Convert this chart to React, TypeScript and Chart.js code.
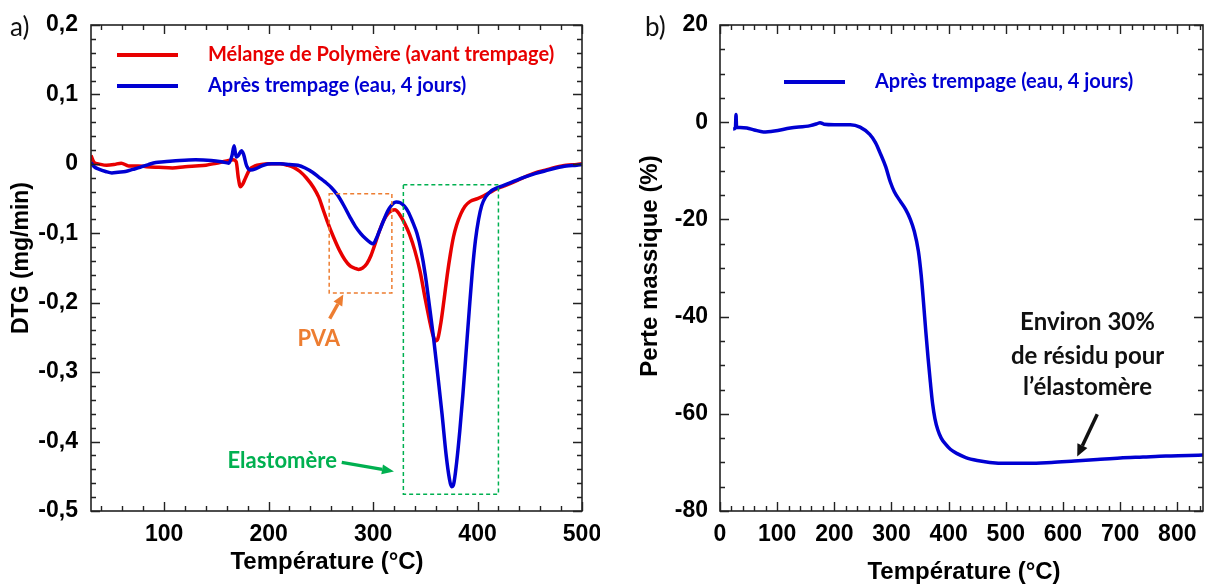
import React, { useEffect, useRef } from "react";
import { Chart, registerables } from "chart.js";

Chart.register(...registerables);

// ---------- Data ----------
// a) DTG curves
const redTemp = [30, 33, 37, 45, 52, 59, 66, 75, 83, 95, 108, 120, 130, 140, 150, 160, 166, 169, 171, 173, 175, 178, 182, 187, 193, 200, 211, 218, 224, 230, 236, 243, 248, 252, 256, 262, 268, 273, 278, 282, 286, 290, 294, 298, 302, 306, 310, 314, 318, 321, 325, 330, 335, 340, 345, 350, 354, 357, 360, 362, 365, 368, 371, 374, 377, 380, 384, 388, 393, 400, 406, 412, 418, 425, 435, 445, 455, 465, 475, 485, 495, 500];
const redDTG = [0.012, 0.002, 0.0, -0.002, -0.001, 0.001, -0.003, -0.003, -0.004, -0.005, -0.006, -0.004, -0.003, -0.002, 0.001, 0.004, 0.006, 0.003, -0.02, -0.033, -0.03, -0.02, -0.008, -0.003, -0.001, 0.0, 0.0, -0.002, -0.005, -0.011, -0.02, -0.034, -0.048, -0.065, -0.082, -0.105, -0.125, -0.138, -0.147, -0.15, -0.152, -0.15, -0.144, -0.132, -0.115, -0.097, -0.082, -0.072, -0.067, -0.066, -0.072, -0.085, -0.102, -0.125, -0.155, -0.195, -0.225, -0.245, -0.255, -0.252, -0.228, -0.195, -0.16, -0.13, -0.105, -0.088, -0.072, -0.061, -0.054, -0.05, -0.046, -0.041, -0.036, -0.032, -0.026, -0.019, -0.013, -0.009, -0.005, -0.002, -0.001, 0.0];

const blueTemp = [30, 33, 38, 44, 50, 56, 63, 70, 77, 85, 92, 100, 115, 130, 145, 155, 162, 165, 167, 169, 171, 174, 176, 179, 183, 188, 195, 203, 211, 220, 228, 235, 242, 248, 254, 260, 266, 272, 278, 283, 288, 293, 297, 300, 303, 306, 310, 314, 318, 322, 326, 330, 334, 338, 342, 346, 350, 354, 358, 362, 366, 370, 373, 375, 377, 380, 383, 386, 389, 392, 395, 398, 401, 404, 408, 413, 418, 425, 435, 445, 455, 465, 475, 485, 495, 500];
const blueDTG = [0.002, -0.004, -0.008, -0.011, -0.013, -0.012, -0.011, -0.008, -0.005, -0.001, 0.002, 0.003, 0.005, 0.006, 0.005, 0.003, 0.001, 0.012, 0.026, 0.01, 0.012, 0.019, 0.014, -0.003, -0.009, -0.007, -0.002, 0.0, 0.0, -0.001, -0.002, -0.006, -0.012, -0.019, -0.026, -0.034, -0.045, -0.06, -0.077, -0.09, -0.1, -0.108, -0.113, -0.115, -0.108, -0.097, -0.082, -0.068, -0.059, -0.055, -0.056, -0.061, -0.07, -0.084, -0.1, -0.125, -0.16, -0.205, -0.252, -0.305, -0.36, -0.42, -0.453, -0.465, -0.462, -0.43, -0.385, -0.332, -0.272, -0.212, -0.155, -0.11, -0.08, -0.06, -0.047, -0.039, -0.035, -0.031, -0.025, -0.019, -0.014, -0.01, -0.006, -0.003, -0.002, -0.001];

// b) mass loss curve
const massTemp = [23, 27, 28, 29, 35, 47, 60, 76, 95, 123, 158, 170, 175, 182, 200, 228, 245, 262, 272, 280, 290, 298, 305, 315, 325, 333, 340, 347, 352, 356, 360, 364, 368, 372, 376, 381, 387, 395, 403, 415, 430, 450, 472, 500, 540, 580, 620, 660, 700, 740, 780, 820, 845];
const massLoss = [-1.4, -1.2, 1.6, -1.0, -1.1, -1.2, -1.6, -2.0, -1.8, -1.2, -0.7, -0.3, -0.1, -0.4, -0.5, -0.5, -1.0, -2.5, -4.2, -6.3, -9.2, -12.3, -14.3, -16.2, -18.0, -20.0, -22.5, -26.5, -31.5, -37.0, -43.0, -48.5, -53.5, -58.0, -61.0, -63.3, -65.0, -66.3, -67.3, -68.2, -69.0, -69.6, -70.0, -70.2, -70.2, -70.0, -69.7, -69.4, -69.1, -68.9, -68.7, -68.6, -68.5];

// Ticks
const xTicksA = [100, 200, 300, 400, 500];
const yTicksA = [-0.5, -0.4, -0.3, -0.2, -0.1, 0, 0.1, 0.2];
const xTicksB = [0, 100, 200, 300, 400, 500, 600, 700, 800];
const yTicksB = [-80, -60, -40, -20, 0, 20];

// Labels
const seriesLabelsA = ["Mélange de Polymère (avant trempage)", "Après trempage (eau, 4 jours)"];
const seriesLabelB = "Après trempage (eau, 4 jours)";
const xTitle = "Température (°C)";
const yTitleA = "DTG (mg/min)";
const yTitleB = "Perte massique (%)";
const noteB = ["Environ 30%", "de résidu pour", "l\u2019élastomère"];

// ---------- Styles ----------
const RED = "rgb(232,0,0)";
const BLUE = "rgb(0,0,210)";
const ORANGE = "rgb(237,125,49)";
const GREEN = "rgb(0,176,80)";
const AXF = "'Liberation Sans', Arial, sans-serif";
const TXF = "Lato, 'Open Sans', sans-serif";

function drawArrow(ctx: CanvasRenderingContext2D, x1: number, y1: number, x2: number, y2: number, color: string, w: number, hl: number, hw: number) {
  const a = Math.atan2(y2 - y1, x2 - x1);
  const bx = x2 - hl * Math.cos(a);
  const by = y2 - hl * Math.sin(a);
  ctx.save();
  ctx.strokeStyle = color;
  ctx.lineWidth = w;
  ctx.beginPath();
  ctx.moveTo(x1, y1);
  ctx.lineTo(bx, by);
  ctx.stroke();
  ctx.fillStyle = color;
  ctx.beginPath();
  ctx.moveTo(x2, y2);
  ctx.lineTo(bx + (hw / 2) * Math.sin(a), by - (hw / 2) * Math.cos(a));
  ctx.lineTo(bx - (hw / 2) * Math.sin(a), by + (hw / 2) * Math.cos(a));
  ctx.closePath();
  ctx.fill();
  ctx.restore();
}

function drawFrame(chart: any, xMinor: number, xMajor: number, yMinor: number, yMajor: number) {
  const { ctx, chartArea } = chart;
  const { left, right, top, bottom } = chartArea;
  const xs = chart.scales.x;
  const ys = chart.scales.y;
  ctx.save();
  ctx.strokeStyle = "#222";
  ctx.lineWidth = 1.6;
  ctx.strokeRect(left, top, right - left, bottom - top);
  ctx.lineWidth = 1.4;
  ctx.beginPath();
  const isMaj = (v: number, m: number) => Math.abs(v / m - Math.round(v / m)) < 1e-6;
  for (let i = Math.ceil(xs.min / xMinor - 1e-9); i * xMinor <= xs.max + 1e-9; i++) {
    const v = i * xMinor;
    const px = Math.round(xs.getPixelForValue(v)) + 0.5;
    const len = isMaj(v, xMajor) ? 9 : 5;
    ctx.moveTo(px, bottom);
    ctx.lineTo(px, bottom - len);
    ctx.moveTo(px, top);
    ctx.lineTo(px, top + len);
  }
  for (let i = Math.ceil(ys.min / yMinor - 1e-9); i * yMinor <= ys.max + 1e-9; i++) {
    const v = i * yMinor;
    const py = Math.round(ys.getPixelForValue(v)) + 0.5;
    const len = isMaj(v, yMajor) ? 9 : 5;
    ctx.moveTo(left, py);
    ctx.lineTo(left + len, py);
    ctx.moveTo(right, py);
    ctx.lineTo(right - len, py);
  }
  ctx.stroke();
  ctx.restore();
}

function dashedBox(chart: any, x0: number, x1: number, y0: number, y1: number, color: string) {
  const { ctx } = chart;
  const xs = chart.scales.x;
  const ys = chart.scales.y;
  const a = xs.getPixelForValue(x0);
  const b = xs.getPixelForValue(x1);
  const c = ys.getPixelForValue(y0);
  const d = ys.getPixelForValue(y1);
  ctx.save();
  ctx.strokeStyle = color;
  ctx.lineWidth = 1.5;
  ctx.setLineDash([4, 3]);
  ctx.strokeRect(a, c, b - a, d - c);
  ctx.restore();
}

function text(ctx: CanvasRenderingContext2D, s: string, x: number, y: number, font: string, color: string, align: CanvasTextAlign = "center", rot = 0) {
  ctx.save();
  ctx.font = font;
  ctx.fillStyle = color;
  ctx.textAlign = align;
  ctx.textBaseline = "middle";
  ctx.translate(x, y);
  if (rot) ctx.rotate(rot);
  ctx.fillText(s, 0, 0);
  ctx.restore();
}

const tickFont = { family: AXF, size: 23, weight: "bold" as const };

function fmtDTG(v: number) {
  const r = Math.round(v * 10) / 10;
  return r === 0 ? "0" : r.toFixed(1).replace(".", ",");
}

function configA(): any {
  const redPts = redTemp.map((t, i) => ({ x: t, y: redDTG[i] }));
  const bluePts = blueTemp.map((t, i) => ({ x: t, y: blueDTG[i] }));
  return {
    type: "line",
    data: {
      datasets: [
        { label: seriesLabelsA[0], data: redPts, borderColor: RED, borderWidth: 3.5, pointRadius: 0, order: 2, cubicInterpolationMode: "monotone", fill: false },
        { label: seriesLabelsA[1], data: bluePts, borderColor: BLUE, borderWidth: 3.5, pointRadius: 0, order: 1, cubicInterpolationMode: "monotone", fill: false },
      ],
    },
    options: {
      animation: false,
      responsive: false,
      events: [],
      layout: { padding: { top: 25, right: 18, left: 0, bottom: 0 } },
      plugins: { legend: { display: false }, tooltip: { enabled: false } },
      scales: {
        x: {
          type: "linear",
          min: 30,
          max: 500,
          grid: { display: false, drawTicks: false },
          border: { display: false },
          afterBuildTicks: (s: any) => { s.ticks = xTicksA.map((v) => ({ value: v })); },
          afterFit: (s: any) => { s.height = 75; s.paddingLeft = 0; s.paddingRight = 0; },
          ticks: { padding: 10, color: "#000", font: tickFont, maxRotation: 0, autoSkip: false, callback: (v: number) => String(v) },
        },
        y: {
          type: "linear",
          min: -0.5,
          max: 0.2,
          grid: { display: false, drawTicks: false },
          border: { display: false },
          afterBuildTicks: (s: any) => { s.ticks = yTicksA.map((v) => ({ value: v })); },
          afterFit: (s: any) => { s.width = 91; s.paddingTop = 0; s.paddingBottom = 0; },
          ticks: { padding: 13, color: "#000", font: tickFont, autoSkip: false, callback: (v: number) => fmtDTG(v) },
        },
      },
    },
    plugins: [
      {
        id: "decorA",
        afterDraw(chart: any) {
          const { ctx, chartArea } = chart;
          const xs = chart.scales.x;
          const ys = chart.scales.y;
          drawFrame(chart, 20, 100, 0.02, 0.1);
          // panel letter
          text(ctx, "a)", 10, 28, `400 26px ${TXF}`, "#111", "left");
          // axis titles
          text(ctx, xTitle, 327, 562, `bold 24px ${AXF}`, "#000");
          text(ctx, yTitleA, 22, 258, `bold 23px ${AXF}`, "#000", "center", -Math.PI / 2);
          // legend
          const L = chartArea.left;
          const cols = [RED, BLUE];
          const ly = [55, 86];
          seriesLabelsA.forEach((lab, i) => {
            ctx.save();
            ctx.strokeStyle = cols[i];
            ctx.lineWidth = 4;
            ctx.beginPath();
            ctx.moveTo(L + 26, ly[i]);
            ctx.lineTo(L + 87, ly[i]);
            ctx.stroke();
            ctx.restore();
            text(ctx, lab, L + 117, ly[i], `bold 20px ${TXF}`, cols[i], "left");
          });
          // annotations
          dashedBox(chart, 258, 318, -0.043, -0.186, ORANGE);
          dashedBox(chart, 329, 420, -0.030, -0.476, GREEN);
          drawArrow(ctx, xs.getPixelForValue(258.5), ys.getPixelForValue(-0.223), xs.getPixelForValue(271.5), ys.getPixelForValue(-0.188), ORANGE, 3.5, 11, 10);
          text(ctx, "PVA", xs.getPixelForValue(248), ys.getPixelForValue(-0.252), `bold 22px ${TXF}`, ORANGE);
          drawArrow(ctx, xs.getPixelForValue(270), ys.getPixelForValue(-0.430), xs.getPixelForValue(320), ys.getPixelForValue(-0.443), GREEN, 3.5, 12, 10);
          text(ctx, "Elastomère", xs.getPixelForValue(213), ys.getPixelForValue(-0.428), `bold 22px ${TXF}`, GREEN);
        },
      },
    ],
  };
}

function configB(): any {
  const pts = massTemp.map((t, i) => ({ x: t, y: massLoss[i] }));
  return {
    type: "line",
    data: {
      datasets: [
        { label: seriesLabelB, data: pts, borderColor: BLUE, borderWidth: 3.5, pointRadius: 0, cubicInterpolationMode: "monotone", fill: false },
      ],
    },
    options: {
      animation: false,
      responsive: false,
      events: [],
      layout: { padding: { top: 25, right: 2, left: 0, bottom: 0 } },
      plugins: { legend: { display: false }, tooltip: { enabled: false } },
      scales: {
        x: {
          type: "linear",
          min: 0,
          max: 845,
          grid: { display: false, drawTicks: false },
          border: { display: false },
          afterBuildTicks: (s: any) => { s.ticks = xTicksB.map((v) => ({ value: v })); },
          afterFit: (s: any) => { s.height = 75; s.paddingLeft = 0; s.paddingRight = 0; },
          ticks: { padding: 10, color: "#000", font: tickFont, maxRotation: 0, autoSkip: false, callback: (v: number) => String(v) },
        },
        y: {
          type: "linear",
          min: -80,
          max: 20,
          grid: { display: false, drawTicks: false },
          border: { display: false },
          afterBuildTicks: (s: any) => { s.ticks = yTicksB.map((v) => ({ value: v })); },
          afterFit: (s: any) => { s.width = 120; s.paddingTop = 0; s.paddingBottom = 0; },
          ticks: { padding: 12, color: "#000", font: tickFont, autoSkip: false, callback: (v: number) => String(v) },
        },
      },
    },
    plugins: [
      {
        id: "decorB",
        afterDraw(chart: any) {
          const { ctx, chartArea } = chart;
          const xs = chart.scales.x;
          const ys = chart.scales.y;
          drawFrame(chart, 20, 100, 5, 20);
          text(ctx, "b)", 45, 28, `400 26px ${TXF}`, "#111", "left");
          text(ctx, xTitle, 364, 572, `bold 24px ${AXF}`, "#000");
          text(ctx, yTitleB, 50, 266, `bold 24px ${AXF}`, "#000", "center", -Math.PI / 2);
          const L = chartArea.left;
          ctx.save();
          ctx.strokeStyle = BLUE;
          ctx.lineWidth = 4;
          ctx.beginPath();
          ctx.moveTo(L + 64, 82);
          ctx.lineTo(L + 125, 82);
          ctx.stroke();
          ctx.restore();
          text(ctx, seriesLabelB, L + 155, 82, `bold 20px ${TXF}`, BLUE, "left");
          const cx = xs.getPixelForValue(643);
          const ly = [-41.2, -48.2, -54.6];
          noteB.forEach((s, i) => text(ctx, s, cx, ys.getPixelForValue(ly[i]), `bold 24px ${TXF}`, "#111"));
          drawArrow(ctx, xs.getPixelForValue(660), ys.getPixelForValue(-60.1), xs.getPixelForValue(625), ys.getPixelForValue(-68.8), "#111", 3.5, 12, 11);
        },
      },
    ],
  };
}

export default function App() {
  const refA = useRef<HTMLCanvasElement>(null);
  const refB = useRef<HTMLCanvasElement>(null);
  useEffect(() => {
    const a = new Chart(refA.current as HTMLCanvasElement, configA());
    const b = new Chart(refB.current as HTMLCanvasElement, configB());
    return () => {
      a.destroy();
      b.destroy();
    };
  }, []);
  return (
    <div style={{ position: "absolute", left: 0, top: 0, width: 1205, height: 586, background: "#fff", overflow: "hidden" }}>
      <canvas ref={refA} width={600} height={586} style={{ position: "absolute", left: 0, top: 0, width: 600, height: 586 }} />
      <canvas ref={refB} width={605} height={586} style={{ position: "absolute", left: 600, top: 0, width: 605, height: 586 }} />
    </div>
  );
}
